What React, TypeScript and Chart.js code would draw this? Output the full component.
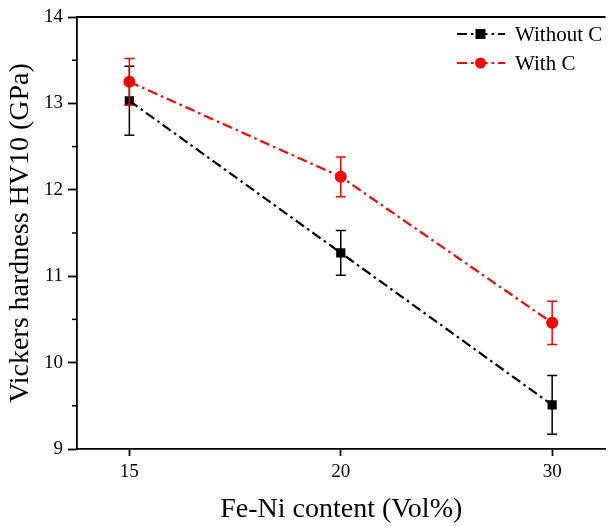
import React, { useEffect, useRef } from "react";
import { Chart, registerables } from "chart.js";

Chart.register(...registerables);

const categories = ["15", "20", "30"];
const withoutC = [13.03, 11.27, 9.51];
const withoutCErr = [0.4, 0.26, 0.34];
const withC = [13.25, 12.15, 10.46];
const withCErr = [0.27, 0.23, 0.25];
const yMinorTicks = [9.5, 10.5, 11.5, 12.5, 13.5];
const seriesNames = ["Without C", "With C"];

const FONT = "'Liberation Serif', 'Times New Roman', serif";
const DASH = [10, 4, 2.5, 4];

const errorBarPlugin = {
  id: "errorBars",
  afterDatasetsDraw(chart: any) {
    const { ctx, scales } = chart;
    const x = scales.x;
    const y = scales.y;
    chart.data.datasets.forEach((ds: any) => {
      const errs: number[] = ds.errors;
      ctx.save();
      ctx.strokeStyle = ds.borderColor;
      ctx.lineWidth = 1.5;
      ctx.setLineDash([]);
      ds.data.forEach((p: any, i: number) => {
        const px = x.getPixelForValue(p.x);
        const top = y.getPixelForValue(p.y + errs[i]);
        const bot = y.getPixelForValue(p.y - errs[i]);
        ctx.beginPath();
        ctx.moveTo(px, top);
        ctx.lineTo(px, bot);
        ctx.moveTo(px - 5, top);
        ctx.lineTo(px + 5, top);
        ctx.moveTo(px - 5, bot);
        ctx.lineTo(px + 5, bot);
        ctx.stroke();
      });
      ctx.restore();
    });
  },
};

const framePlugin = {
  id: "frame",
  afterDraw(chart: any) {
    const { ctx, chartArea, scales } = chart;
    const y = scales.y;
    ctx.save();
    ctx.strokeStyle = "#000";
    ctx.lineWidth = 1.8;
    ctx.setLineDash([]);
    // top border
    ctx.beginPath();
    ctx.moveTo(chartArea.left, chartArea.top);
    ctx.lineTo(chartArea.right, chartArea.top);
    ctx.stroke();
    // minor ticks
    ctx.lineWidth = 1.5;
    yMinorTicks.forEach((v) => {
      const py = y.getPixelForValue(v);
      ctx.beginPath();
      ctx.moveTo(chartArea.left - 5, py);
      ctx.lineTo(chartArea.left, py);
      ctx.stroke();
    });
    // legend
    const items = [
      { y: 34, color: "#000000", style: "rect" },
      { y: 63, color: "#ff0000", style: "circle" },
    ];
    items.forEach((it, i) => {
      ctx.save();
      ctx.strokeStyle = it.color;
      ctx.lineWidth = 2.2;
      ctx.setLineDash(DASH);
      ctx.beginPath();
      ctx.moveTo(457, it.y);
      ctx.lineTo(505, it.y);
      ctx.stroke();
      ctx.setLineDash([]);
      ctx.fillStyle = it.color;
      if (it.style === "rect") {
        ctx.fillRect(475.5, it.y - 5, 10, 10);
      } else {
        ctx.beginPath();
        ctx.arc(480.5, it.y, 5.5, 0, Math.PI * 2);
        ctx.fill();
      }
      ctx.fillStyle = "#000";
      ctx.font = `21px ${FONT}`;
      ctx.textBaseline = "middle";
      ctx.textAlign = "left";
      ctx.fillText(seriesNames[i], 515, it.y + 1);
      ctx.restore();
    });
    ctx.restore();
  },
};

export default function App() {
  const ref = useRef<HTMLCanvasElement | null>(null);

  useEffect(() => {
    if (!ref.current) return;
    const chart = new Chart(ref.current, {
      type: "line",
      data: {
        datasets: [
          {
            label: seriesNames[0],
            data: withoutC.map((v, i) => ({ x: i, y: v })),
            errors: withoutCErr,
            borderColor: "#000000",
            backgroundColor: "#000000",
            borderWidth: 2.2,
            borderDash: DASH,
            pointStyle: "rect",
            pointRadius: 6.5,
            pointBorderWidth: 0,
            tension: 0,
          } as any,
          {
            label: seriesNames[1],
            data: withC.map((v, i) => ({ x: i, y: v })),
            errors: withCErr,
            borderColor: "#ff0000",
            backgroundColor: "#ff0000",
            borderWidth: 2.2,
            borderDash: DASH,
            pointStyle: "circle",
            pointRadius: 6,
            pointBorderWidth: 0,
            tension: 0,
          } as any,
        ],
      },
      options: {
        animation: false,
        responsive: false,
        devicePixelRatio: 1,
        layout: { padding: { top: 17, left: 0, right: 0, bottom: 0 } },
        plugins: {
          legend: { display: false },
          tooltip: { enabled: false },
        },
        scales: {
          x: {
            type: "linear",
            min: -0.2477,
            max: 2.2523,
            afterBuildTicks: (scale: any) => {
              scale.ticks = categories.map((_, i) => ({ value: i }));
            },
            afterFit: (scale: any) => {
              scale.height = 77;
            },
            ticks: {
              callback: (v: any) => categories[Math.round(Number(v))] ?? "",
              color: "#000",
              font: { family: FONT, size: 19 },
              padding: 5,
              maxRotation: 0,
            },
            grid: {
              drawOnChartArea: false,
              drawTicks: true,
              tickLength: 7,
              tickColor: "#000",
              tickWidth: 1.8,
            },
            border: { display: true, color: "#000", width: 1.8 },
            title: {
              display: true,
              text: "Fe-Ni content (Vol%)",
              color: "#000",
              font: { family: FONT, size: 28 },
              padding: { top: 0, bottom: 0 },
            },
          },
          y: {
            type: "linear",
            min: 9,
            max: 14,
            afterFit: (scale: any) => {
              scale.width = 77;
            },
            ticks: {
              stepSize: 1,
              color: "#000",
              font: { family: FONT, size: 19 },
              padding: 5,
            },
            grid: {
              drawOnChartArea: false,
              drawTicks: true,
              tickLength: 9,
              tickColor: "#000",
              tickWidth: 1.8,
            },
            border: { display: true, color: "#000", width: 1.8 },
            title: {
              display: true,
              text: "Vickers hardness HV10 (GPa)",
              color: "#000",
              font: { family: FONT, size: 28 },
              padding: { top: 4, bottom: 0 },
            },
          },
        },
      } as any,
      plugins: [errorBarPlugin, framePlugin],
    });
    return () => chart.destroy();
  }, []);

  return (
    <div
      style={{
        position: "fixed",
        left: 0,
        top: 0,
        width: 609,
        height: 526,
        overflow: "hidden",
        background: "#fff",
      }}
    >
      <canvas ref={ref} width={612} height={526} style={{ display: "block" }} />
    </div>
  );
}
